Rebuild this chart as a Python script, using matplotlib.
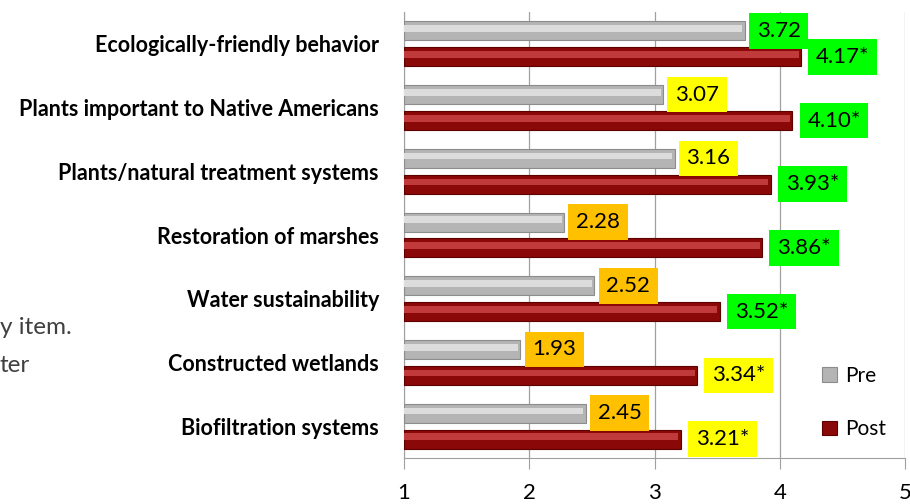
import matplotlib.pyplot as plt
import numpy as np

# 数据
categories = ['Ecologically-friendly behavior', 'Plants important to Native Americans',
              'Plants/natural treatment systems', 'Restoration of marshes',
              'Water sustainability', 'Constructed wetlands', 'Biofiltration systems']
pre = [3.72, 3.07, 3.16, 2.28, 2.52, 1.93, 2.45]
post = [4.17, 4.10, 3.93, 3.86, 3.52, 3.34, 3.21]
xticks = [1, 2, 3, 4, 5]


def label_color(v):
    if v >= 3.5:
        return '#00FF00'
    if v >= 3.0:
        return '#FFFF00'
    return '#FFC000'


fig = plt.figure(figsize=(9.1, 5.04), dpi=100)
ax = fig.add_axes([404 / 910, 46 / 504, 501 / 910, 446 / 504])

n = len(categories)
y = np.arange(n)[::-1]
off = 0.203
h = 0.30

# 柱子 (简单的立体效果)
ax.barh(y + off, [v - 1 for v in pre], h, left=1, color='#B4B4B4',
        edgecolor='#8C8C8C', linewidth=0.8, zorder=3, label='Pre')
ax.barh(y + off + h * 0.12, [v - 1 - 0.02 for v in pre], h * 0.35, left=1,
        color='#DCDCDC', linewidth=0, zorder=4)
ax.barh(y - off, [v - 1 for v in post], h, left=1, color='#8A0808',
        edgecolor='#5E0000', linewidth=0.8, zorder=3, label='Post')
ax.barh(y - off + h * 0.12, [v - 1 - 0.02 for v in post], h * 0.35, left=1,
        color='#C0393B', linewidth=0, zorder=4)

# 数据标签
for yi, v in zip(y, pre):
    ax.text(v + 0.095, yi + off, f'{v:.2f}', ha='left', va='center',
            fontsize=16, family='Lato', zorder=6,
            bbox=dict(boxstyle='square,pad=0.35', fc=label_color(v), ec='none'))
for yi, v in zip(y, post):
    ax.text(v + 0.12, yi - off, f'{v:.2f}*', ha='left', va='center',
            fontsize=16, family='Lato', zorder=5,
            bbox=dict(boxstyle='square,pad=0.35', fc=label_color(v), ec='none'))

ax.set_xlim(1, 5)
ax.set_ylim(-0.5, n - 0.5)
ax.set_xticks(xticks)
ax.set_xticklabels([str(t) for t in xticks], fontsize=16, family='Lato')
ax.set_yticks(y)
ax.set_yticklabels(categories, fontsize=15.5, fontweight='bold', family='Lato')
ax.tick_params(axis='y', length=0, pad=18)
ax.tick_params(axis='x', length=8, color='#A0A0A0', pad=10)
ax.grid(axis='x', color='#A0A0A0', linewidth=0.9, zorder=0)
for s in ['top', 'right']:
    ax.spines[s].set_visible(False)
for s in ['left', 'bottom']:
    ax.spines[s].set_color('#A0A0A0')

# 图例
leg = ax.legend(loc='lower right', bbox_to_anchor=(1.0, 0.0), frameon=False,
                prop={'family': 'Lato', 'size': 15}, labelspacing=1.6,
                handlelength=0.7, handleheight=0.7, handletextpad=0.4)

# 幻灯片左侧残留文字
fig.text(0.0, 1 - 328 / 504, 'y item.', fontsize=17.5, family='Lato',
         color='#404040', va='center')
fig.text(0.0, 1 - 365 / 504, 'ter', fontsize=17.5, family='Lato',
         color='#404040', va='center')

fig.savefig('out.png', dpi=100)
